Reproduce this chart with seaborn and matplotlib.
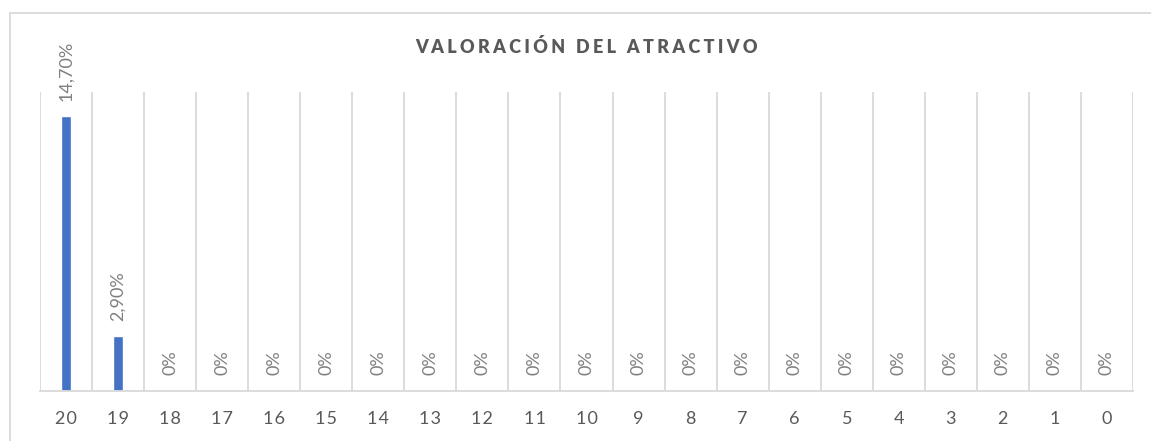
import matplotlib
matplotlib.use("Agg")
import matplotlib.pyplot as plt
import seaborn as sns
import pandas as pd
from matplotlib.lines import Line2D

# Scores (20 down to 0) and the share of responses for each score, in percent
categories = [str(s) for s in range(20, -1, -1)]
values = [14.70, 2.90] + [0.0] * 19
value_labels = ["14,70%", "2,90%"] + ["0%"] * 19

title = "VALORACIÓN DEL ATRACTIVO"

BAR_COLOR = "#4472C4"
GRID_COLOR = "#D9D9D9"
TEXT_COLOR = "#595959"
LABEL_COLOR = "#7F7F7F"


def spaced(text, gap="\u2009"):
    """Widen the tracking of a string with thin spaces between letters."""
    return gap.join(text)


sns.set_theme(style="white")
plt.rcParams["font.family"] = ["Lato", "DejaVu Sans"]

df = pd.DataFrame({"puntaje": categories, "porcentaje": values})

fig = plt.figure(figsize=(11.51, 4.41), dpi=100)
ax = fig.add_axes([40 / 1151, 1 - 390.5 / 441, (1133 - 40) / 1151, (390.5 - 92) / 441])

sns.barplot(data=df, x="puntaje", y="porcentaje", order=categories,
            color=BAR_COLOR, saturation=1, width=0.18, ax=ax)

ax.set_ylim(0, 16)
ax.set_xlim(-0.5, len(categories) - 0.5)

# vertical separators between categories
for b in range(len(categories) + 1):
    ax.axvline(b - 0.5, color=GRID_COLOR, lw=1.3, zorder=0)

for side in ["top", "right", "left"]:
    ax.spines[side].set_visible(False)
ax.spines["bottom"].set_color(GRID_COLOR)
ax.spines["bottom"].set_linewidth(1.3)

ax.set_yticks([])
ax.set_xlabel("")
ax.set_ylabel("")
ax.set_xticks(range(len(categories)))
ax.set_xticklabels([spaced(c, "\u200a") for c in categories])
ax.tick_params(axis="x", length=0, pad=15, labelsize=13, labelcolor=TEXT_COLOR)

# value labels above each bar
for i, (v, lab) in enumerate(zip(values, value_labels)):
    ax.annotate(lab, xy=(i, v), xytext=(0, 11), textcoords="offset points",
                rotation=90, ha="center", va="bottom",
                fontsize=13, color=LABEL_COLOR)

fig.text((40 + 1133) / 2 / 1151, 1 - 47 / 441, spaced(title, "\u2009\u200a"),
         ha="center", va="center", fontsize=13, fontweight="heavy",
         color=TEXT_COLOR)

# chart frame
fig.add_artist(Line2D([10 / 1151, 1.0], [1 - 13 / 441, 1 - 13 / 441],
                      transform=fig.transFigure, color=GRID_COLOR, lw=1.3))
fig.add_artist(Line2D([10 / 1151, 10 / 1151], [0.0, 1 - 13 / 441],
                      transform=fig.transFigure, color=GRID_COLOR, lw=1.3))

fig.savefig("out.png", dpi=100)
